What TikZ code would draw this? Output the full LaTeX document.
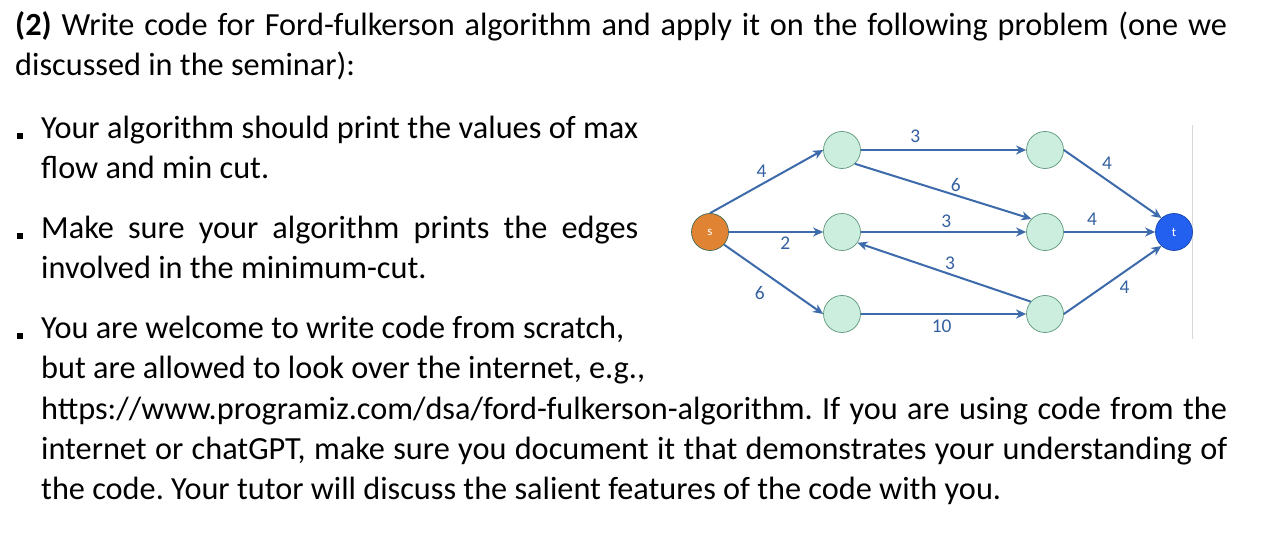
\documentclass[tikz,border=0pt]{standalone}
\usepackage{fontspec}
\setmainfont{Carlito}
\usetikzlibrary{arrows.meta}
\frenchspacing
\definecolor{edgeblue}{RGB}{60,106,170}
\definecolor{lblblue}{RGB}{52,96,160}
\definecolor{vfill}{RGB}{204,238,223}
\definecolor{vdraw}{RGB}{92,150,122}
\definecolor{sfill}{RGB}{224,131,50}
\definecolor{tfill}{RGB}{36,96,240}
\definecolor{vline}{RGB}{217,217,217}
\tikzset{
  vtx/.style={circle, draw=vdraw, fill=vfill, line width=0.7bp, minimum size=37bp, inner sep=0pt},
  srcv/.style={vtx, fill=sfill, draw=vdraw!70!black, text=white, font=\fontsize{13}{13}\selectfont},
  sinkv/.style={vtx, fill=tfill, draw=tfill!70!black, text=white, font=\fontsize{13}{13}\selectfont},
  flow/.style={draw=edgeblue, line width=2bp, -{Stealth[length=10bp,width=9bp,inset=3bp]}},
  caplbl/.style={text=lblblue, font=\fontsize{19.5}{19.5}\selectfont, inner sep=0pt},
  txt/.style={anchor=base west, inner sep=0pt, font=\fontsize{32.4}{40}\selectfont},
  bulletsq/.style={fill=black, inner sep=0pt, minimum size=6bp, anchor=south west},
}
\begin{document}
\begin{tikzpicture}[x=1bp,y=-1bp]
\useasboundingbox (0,0) rectangle (1262,536);
\fill[white] (0,0) rectangle (1262,536);

% text
\node[txt] (l1) at (15,36) {\makebox[1212bp][s]{\textbf{(2)} Write code for Ford-fulkerson algorithm and apply it on the following problem (one we}};
\node[txt] (l2) at (15,76) {discussed in the seminar):};

\node[bulletsq] (b1) at (17,139) {};
\node[txt] (l3) at (41,139) {\makebox[597bp][s]{Your algorithm should print the values of max}};
\node[txt] (l4) at (41,179) {flow and min cut.};

\node[bulletsq] (b2) at (17,239) {};
\node[txt] (l5) at (41,239) {\makebox[597bp][s]{Make sure your algorithm prints the edges}};
\node[txt] (l6) at (41,279) {involved in the minimum-cut.};

\node[bulletsq] (b3) at (17,339) {};
\node[txt] (l7) at (41,339) {You are welcome to write code from scratch,};
\node[txt] (l8) at (41,379) {but are allowed to look over the internet, e.g.,};
\node[txt] (l9) at (41,419) {\makebox[1186bp][s]{https://www.programiz.com/dsa/ford-fulkerson-algorithm. If you are using code from the}};
\node[txt] (l10) at (41,459) {\makebox[1186bp][s]{internet or chatGPT, make sure you document it that demonstrates your understanding of}};
\node[txt] (l11) at (41,499) {the code. Your tutor will discuss the salient features of the code with you.};

% divider line
\coordinate (v1) at (1192.5,125);
\coordinate (v2) at (1192.5,339);
\draw[vline, line width=1bp] (v1) -- (v2);

% graph
\node[srcv] (s) at (710,232) {s};
\node[vtx] (A) at (842,150) {};
\node[vtx] (B) at (842,232) {};
\node[vtx] (C) at (842,314) {};
\node[vtx] (D) at (1045,150) {};
\node[vtx] (E) at (1045,232) {};
\node[vtx] (F) at (1045,314) {};
\node[sinkv] (t) at (1174,232) {t};

\draw[flow] (s.north) -- (A.west);
\draw[flow] (s.east) -- (B.west);
\draw[flow] (s.-42) -- (C.west);
\draw[flow] (A.east) -- (D.west);
\draw[flow] (A.-47) -- (E.136);
\draw[flow] (B.east) -- (E.west);
\draw[flow] (F.139) -- (B.-35);
\draw[flow] (C.east) -- (F.west);
\draw[flow] (D.east) -- (t.132);
\draw[flow] (E.east) -- (t.west);
\draw[flow] (F.east) -- (t.228);

\node[caplbl] (c1) at (761.6,171) {4};
\node[caplbl] (c2) at (785.2,243) {2};
\node[caplbl] (c3) at (759.9,293) {6};
\node[caplbl] (c4) at (915.4,136) {3};
\node[caplbl] (c5) at (955.9,185) {6};
\node[caplbl] (c6) at (946.4,221.5) {3};
\node[caplbl] (c7) at (950,263.5) {3};
\node[caplbl] (c8) at (941.7,326.5) {10};
\node[caplbl] (c9) at (1107,163.5) {4};
\node[caplbl] (c10) at (1092,219) {4};
\node[caplbl] (c11) at (1124.5,287.5) {4};
\end{tikzpicture}
\end{document}
